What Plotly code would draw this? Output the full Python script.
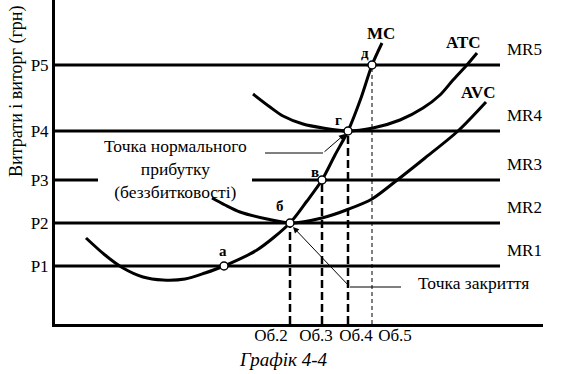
import plotly.graph_objects as go

# ---------------- data ----------------
price_labels = ["P1", "P2", "P3", "P4", "P5"]
prices = [58, 101, 144, 193, 259]
mr_labels = ["MR1", "MR2", "MR3", "MR4", "MR5"]

q_labels = ["Об.2", "Об.3", "Об.4", "Об.5"]
quantities = [235, 267, 293, 317]

mc_q = [31, 50, 68, 88, 108, 130, 150, 169, 202, 235, 252, 267, 280, 293, 306, 317, 327]
mc_c = [86, 69, 56, 47, 44, 45, 51, 58, 74, 101, 123, 144, 169, 193, 226, 259, 281]

atc_q = [198, 215, 228, 248, 268, 293, 318, 345, 368, 385, 398, 411, 422]
atc_c = [230, 217, 208, 200, 196, 193, 196, 204, 216, 229, 244, 258, 271]

avc_q = [157, 170, 185, 212, 235, 267, 294, 317, 341, 370, 403, 431]
avc_c = [126, 119, 112, 105, 101, 106, 115, 125, 143, 166, 193, 222]

point_names = ["а", "б", "в", "г", "д"]
point_q = [169, 235, 267, 293, 317]
point_p = [58, 101, 144, 193, 259]

FONT = "Liberation Serif, Times New Roman, serif"
BLACK = "black"

fig = go.Figure()

# MR (price) lines
X_END = 445
for lab, p in zip(mr_labels, prices):
    if lab == "MR3":
        segs = [[0, 43], [197, X_END]]
    else:
        segs = [[0, X_END]]
    for s in segs:
        fig.add_trace(go.Scatter(x=s, y=[p, p], mode="lines",
                                 line=dict(color=BLACK, width=3),
                                 hoverinfo="skip", showlegend=False))
    fig.add_annotation(x=450, y=p + 16, text=lab, showarrow=False,
                       xanchor="left", yanchor="middle",
                       font=dict(family=FONT, size=17, color=BLACK))

# dashed verticals from points to quantity axis
for i, (q, p) in enumerate(zip(quantities, point_p[1:])):
    thin = (i == 3)
    fig.add_trace(go.Scatter(x=[q, q], y=[0, p], mode="lines",
                             line=dict(color=BLACK, width=1 if thin else 2.5,
                                       dash="4px,3px" if thin else "8px,4px"),
                             hoverinfo="skip", showlegend=False))

# cost curves
for qq, cc in [(mc_q, mc_c), (atc_q, atc_c), (avc_q, avc_c)]:
    fig.add_trace(go.Scatter(x=qq, y=cc, mode="lines",
                             line=dict(color=BLACK, width=3, shape="spline", smoothing=0.8),
                             hoverinfo="skip", showlegend=False))

# leader lines
fig.add_trace(go.Scatter(x=[210, 268], y=[171, 171], mode="lines",
                         line=dict(color=BLACK, width=1), hoverinfo="skip", showlegend=False))
fig.add_trace(go.Scatter(x=[295, 346], y=[37, 37], mode="lines",
                         line=dict(color=BLACK, width=1), hoverinfo="skip", showlegend=False))
fig.add_annotation(x=290, y=190, ax=268, ay=171, axref="x", ayref="y", xref="x", yref="y",
                   text="", showarrow=True, arrowhead=2, arrowsize=1.2, arrowwidth=1, arrowcolor=BLACK)
fig.add_annotation(x=238, y=97, ax=295, ay=37, axref="x", ayref="y", xref="x", yref="y",
                   text="", showarrow=True, arrowhead=2, arrowsize=1.2, arrowwidth=1, arrowcolor=BLACK)

# points
fig.add_trace(go.Scatter(x=point_q, y=point_p, mode="markers",
                         marker=dict(symbol="circle", size=8, color="white",
                                     line=dict(color=BLACK, width=1.5)),
                         cliponaxis=False, hoverinfo="skip", showlegend=False))

# point labels
label_offsets = [(-1, 15), (-10, 17), (-7, 8), (-10, 11), (-7, 12)]
for n, q, p, (dx, dy) in zip(point_names, point_q, point_p, label_offsets):
    fig.add_annotation(x=q + dx, y=p + dy, text=f"<b>{n}</b>", showarrow=False,
                       font=dict(family=FONT, size=15, color=BLACK))

# curve labels
for txt, x, y in [("MC", 326, 291), ("ATC", 408, 282), ("AVC", 423, 232)]:
    fig.add_annotation(x=x, y=y, text=f"<b>{txt}</b>", showarrow=False,
                       font=dict(family=FONT, size=17, color=BLACK))

# text annotations
fig.add_annotation(x=120, y=155, text="Точка нормального<br>прибутку<br>(беззбитковості)",
                   showarrow=False, align="center",
                   font=dict(family=FONT, size=17.5, color=BLACK))
fig.add_annotation(x=418, y=41, text="Точка закриття", showarrow=False,
                   font=dict(family=FONT, size=17.5, color=BLACK))

# y-axis title
fig.add_annotation(xref="paper", x=-0.08, yref="y", y=233, text="Витрати і виторг (грн)",
                   textangle=-90, showarrow=False, xanchor="center", yanchor="middle",
                   font=dict(family=FONT, size=18, color=BLACK))

# caption
fig.add_annotation(xref="x", x=228, yref="paper", y=-0.11, text="<i>Графік 4-4</i>",
                   showarrow=False, xanchor="center", yanchor="middle",
                   font=dict(family=FONT, size=19, color=BLACK))

x_label_pos = [q + d for q, d in zip(quantities, [-19, -6, 8, 23])]

fig.update_layout(
    width=566, height=374,
    margin=dict(l=55, r=23, t=0, b=50, pad=0),
    plot_bgcolor="white", paper_bgcolor="white",
    showlegend=False,
    font=dict(family=FONT),
    xaxis=dict(range=[0, 488], showline=True, linecolor=BLACK, linewidth=3,
               showgrid=False, zeroline=False, ticks="",
               tickvals=x_label_pos, ticktext=q_labels, ticklabelstandoff=-6,
               tickfont=dict(family=FONT, size=17, color=BLACK)),
    yaxis=dict(range=[0, 324], showline=True, linecolor=BLACK, linewidth=3,
               showgrid=False, zeroline=False, ticks="",
               tickvals=prices, ticktext=price_labels,
               tickfont=dict(family=FONT, size=17, color=BLACK)),
)

fig.write_html("out.html", config={"displayModeBar": False},
               post_script="document.body.style.margin='0px';document.body.style.overflow='hidden';")
